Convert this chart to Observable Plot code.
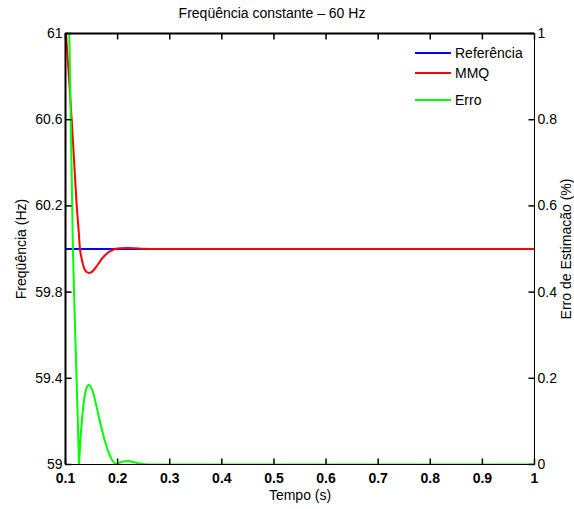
<!DOCTYPE html>
<html>
<head>
<meta charset="utf-8">
<script src="https://cdn.jsdelivr.net/npm/d3@7"></script>
<script src="https://cdn.jsdelivr.net/npm/@observablehq/plot@0.6"></script>
<style>
  html, body { margin: 0; padding: 0; background: white; }
  #wrap { position: relative; width: 574px; height: 509px; font-family: "Liberation Sans", Arial, sans-serif; }
  #legend { position: absolute; left: 415px; top: 0; width: 120px; height: 120px; font-size: 14px; }
  #legend .row { position: absolute; left: 0; display: flex; align-items: center; height: 16px; }
  #legend .sw { width: 36px; height: 2px; margin-right: 4px; }
</style>
</head>
<body>
<div id="wrap"><div id="legend"></div></div>
<script>
// ---- Data ----
const refTime = [0.1, 1.0];
const refFreq = [60, 60];

const mmqTime = [0.100, 0.101, 0.1065, 0.1119, 0.1167, 0.1215, 0.1248, 0.1278, 0.131, 0.134, 0.137, 0.1405, 0.1447, 0.149, 0.155, 0.162, 0.170, 0.178, 0.186, 0.195, 0.205, 0.2206, 0.235, 0.25, 0.27, 1.0];
const mmqFreq = [61.04, 61.0, 60.8, 60.6, 60.4, 60.2, 60.1, 60.0, 59.955, 59.925, 59.905, 59.893, 59.889, 59.892, 59.905, 59.928, 59.955, 59.976, 59.99, 60.0, 60.004, 60.005, 60.003, 60.001, 60.0, 60.0];

const errTime = [0.100, 0.1073, 0.1108, 0.1142, 0.118, 0.122, 0.1259, 0.129, 0.132, 0.135, 0.138, 0.141, 0.1447, 0.148, 0.152, 0.156, 0.160, 0.165, 0.170, 0.175, 0.180, 0.185, 0.190, 0.194, 0.197, 0.203, 0.210, 0.2206, 0.23, 0.24, 0.25, 0.26, 1.0];
const errPct = [1.6, 1.0, 0.75, 0.5, 0.33, 0.17, 0.0, 0.065, 0.11, 0.145, 0.168, 0.18, 0.185, 0.182, 0.171, 0.153, 0.132, 0.105, 0.08, 0.057, 0.037, 0.021, 0.009, 0.003, 0.0, 0.004, 0.007, 0.008, 0.006, 0.003, 0.001, 0.0, 0.0];

const xTicks = [0.1, 0.2, 0.3, 0.4, 0.5, 0.6, 0.7, 0.8, 0.9, 1.0];
const xTickLabels = ["0.1", "0.2", "0.3", "0.4", "0.5", "0.6", "0.7", "0.8", "0.9", "1"];
const yTicks = [59, 59.4, 59.8, 60.2, 60.6, 61];
const yTickLabels = ["59", "59.4", "59.8", "60.2", "60.6", "61"];
const y2Ticks = [0, 0.2, 0.4, 0.6, 0.8, 1];
const y2TickLabels = ["0", "0.2", "0.4", "0.6", "0.8", "1"];

const title = "Freqüência constante \u2013 60 Hz";
const xLabel = "Tempo (s)";
const yLabel = "Freqüência (Hz)";
const y2Label = "Erro de Estimacão (%)";

const seriesNames = ["Referência", "MMQ", "Erro"];
const seriesColors = ["#0000ff", "#ff0000", "#00ff00"];

// ---- Build tables ----
const timeDomain = [0.1, 1];
const freqDomain = [59, 61];
const errDomain = [0, 1];
const errToFreq = d3.scaleLinear().domain(errDomain).range(freqDomain);

const refData = refTime.map((t, i) => ({t, v: refFreq[i]}));
const mmqData = mmqTime.map((t, i) => ({t, v: mmqFreq[i]}));
const errData = errTime.map((t, i) => ({t, v: errToFreq(errPct[i])}));
const y2TickPos = y2Ticks.map(errToFreq);

const W = 574, H = 509, mL = 65, mR = 40, mT = 33, mB = 45;
const frameW = W - mL - mR, frameH = H - mT - mB;
const tickLen = 6; // px
const tickT = tickLen * (timeDomain[1] - timeDomain[0]) / frameW;
const tickF = tickLen * (freqDomain[1] - freqDomain[0]) / frameH;

// tick segments as link tables
const tickSegs = [
  ...xTicks.map(t => ({x1: t, x2: t, y1: freqDomain[0], y2: freqDomain[0] + tickF})),
  ...xTicks.map(t => ({x1: t, x2: t, y1: freqDomain[1] - tickF, y2: freqDomain[1]})),
  ...yTicks.map(v => ({x1: timeDomain[0], x2: timeDomain[0] + tickT, y1: v, y2: v})),
  ...y2TickPos.map(v => ({x1: timeDomain[1] - tickT, x2: timeDomain[1], y1: v, y2: v}))
];

const font = "'Liberation Sans', Arial, sans-serif";

const chart = Plot.plot({
  width: W,
  height: H,
  marginLeft: mL,
  marginRight: mR,
  marginTop: mT,
  marginBottom: mB,
  style: {fontFamily: font, fontSize: "14px", color: "black", background: "white", overflow: "visible"},
  x: {domain: timeDomain},
  y: {domain: freqDomain},
  marks: [
    Plot.line(refData, {x: "t", y: "v", stroke: seriesColors[0], strokeWidth: 2, clip: true}),
    Plot.line(mmqData, {x: "t", y: "v", stroke: seriesColors[1], strokeWidth: 2, curve: "monotone-x", clip: true}),
    Plot.line(errData, {x: "t", y: "v", stroke: seriesColors[2], strokeWidth: 2, clip: true}),
    Plot.link(tickSegs, {x1: "x1", x2: "x2", y1: "y1", y2: "y2", stroke: "black", strokeWidth: 1.5}),
    Plot.frame({stroke: "black", strokeWidth: 1}),
    Plot.ruleX([timeDomain[0]], {stroke: "black", strokeWidth: 2}),
    Plot.ruleY([freqDomain[1]], {stroke: "black", strokeWidth: 2}),
    Plot.axisX({anchor: "bottom", ticks: xTicks, tickFormat: (d, i) => xTickLabels[i], tickSize: 0, tickPadding: 9, label: null, fontWeight: "bold", fontSize: 14}),
    Plot.axisY({anchor: "left", ticks: yTicks, tickFormat: (d, i) => yTickLabels[i], tickSize: 0, tickPadding: 3, label: null, fontSize: 14}),
    Plot.axisY({anchor: "right", ticks: y2TickPos, tickFormat: (d, i) => y2TickLabels[i], tickSize: 0, tickPadding: 3, label: null, fontSize: 14}),
    Plot.text([title], {frameAnchor: "top", lineAnchor: "middle", dx: -28, dy: -20, fontSize: 14, fontFamily: font}),
    Plot.text([xLabel], {frameAnchor: "bottom", lineAnchor: "middle", dy: 31, fontSize: 14, fontFamily: font}),
    Plot.text([yLabel], {frameAnchor: "left", textAnchor: "middle", lineAnchor: "middle", rotate: -90, dx: -44, fontSize: 14, fontFamily: font}),
    Plot.text([y2Label], {frameAnchor: "right", textAnchor: "middle", lineAnchor: "middle", rotate: -90, dx: 32, fontSize: 14, fontFamily: font})
  ]
});
document.getElementById("wrap").prepend(chart);

// ---- Legend ----
const legendRowCenters = [53, 73, 100];
const legend = document.getElementById("legend");
seriesNames.forEach((name, i) => {
  const row = document.createElement("div");
  row.className = "row";
  row.style.top = (legendRowCenters[i] - 8) + "px";
  const sw = document.createElement("div");
  sw.className = "sw";
  sw.style.background = seriesColors[i];
  const lab = document.createElement("span");
  lab.textContent = name;
  row.appendChild(sw);
  row.appendChild(lab);
  legend.appendChild(row);
});
</script>
</body>
</html>
